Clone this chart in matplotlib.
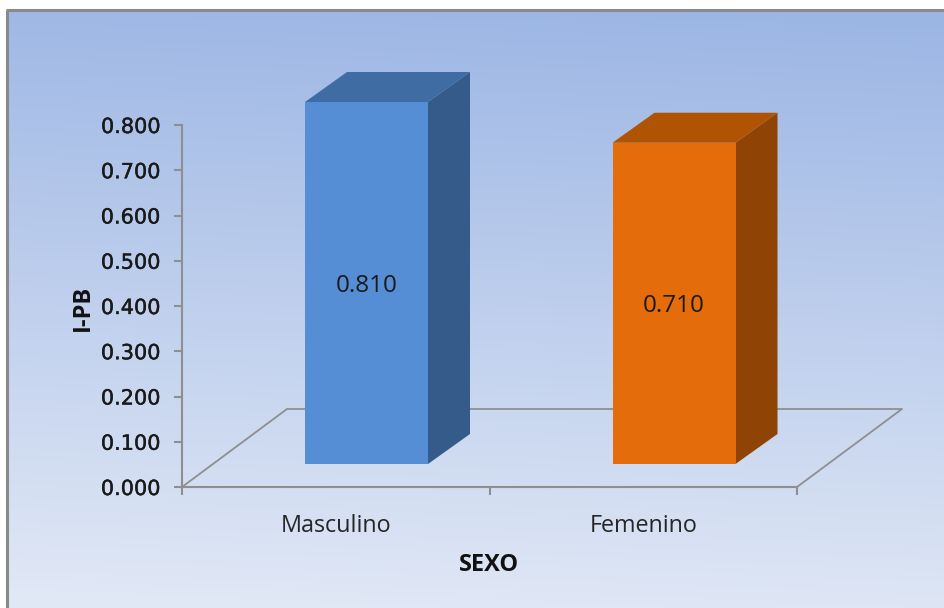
import numpy as np
import matplotlib
matplotlib.use("Agg")
import matplotlib.pyplot as plt
import matplotlib.patheffects as pe
from matplotlib.patches import Polygon

# values
categories = ["Masculino", "Femenino"]
bar_heights = [0.80, 0.71]
bar_labels = ["0.810", "0.710"]
y_ticks = [0.0, 0.1, 0.2, 0.3, 0.4, 0.5, 0.6, 0.7, 0.8]
front_colors = ["#558ed5", "#e46c0a"]
top_colors = ["#3f6ca3", "#b05303"]
side_colors = ["#345b8a", "#8f4304"]

W, H = 944, 608
plt.rcParams["font.family"] = ["Open Sans", "DejaVu Sans"]
fig = plt.figure(figsize=(W / 100, H / 100), dpi=100, facecolor="white")

# Background gradient, light at the bottom, slightly darker top right
bg = fig.add_axes([0, 0, 1, 1], zorder=0)
bg.set_xlim(0, W)
bg.set_ylim(H, 0)
bg.axis("off")
yy, xx = np.mgrid[0:1:200j, 0:1:200j]
t = np.clip(yy * 0.94 + (1 - xx) * 0.06, 0, 1)[..., None]
top_c = np.array([155, 181, 228]) / 255
bot_c = np.array([226, 233, 246]) / 255
bg.imshow(top_c + (bot_c - top_c) * t, extent=(7, W, H, 10), aspect="auto")
bg.set_xlim(0, W)
bg.set_ylim(H, 0)
bg.plot([7, 7], [H, 10], color="#8a8a8a", lw=2.2, solid_capstyle="butt")
bg.plot([6, W], [10, 10], color="#8a8a8a", lw=2.2, solid_capstyle="butt")

# Main plot, 0 to 0.8 is 362 px tall
ax = fig.add_axes([182 / W, (H - 487) / H, 615 / W, 362 / H], zorder=1)
ax.patch.set_alpha(0)
ax.set_xlim(0, 2)
ax.set_ylim(0, 0.8)

depth_x = 105 / 615 * 2
depth_y = 78 / 362 * 0.8
grey = "#8f8f8f"

# Floor
ax.plot([0, depth_x, 2 + depth_x, 2], [0, depth_y, depth_y, 0],
        color=grey, lw=1.3, clip_on=False, zorder=1)

# Bars as three faces
bar_w = 0.4
shift_x = 0.1
base_y = 23 / 362 * 0.8
side_x = 42 / 615 * 2
side_y = 30 / 362 * 0.8

for i, h in enumerate(bar_heights):
    x0 = i + 0.5 + shift_x - bar_w / 2
    x1 = x0 + bar_w
    y0 = base_y
    y1 = base_y + h
    ax.add_patch(Polygon([(x1, y0), (x1 + side_x, y0 + side_y), (x1 + side_x, y1 + side_y), (x1, y1)],
                         facecolor=side_colors[i], edgecolor="none", clip_on=False, zorder=3))
    ax.add_patch(Polygon([(x0, y1), (x1, y1), (x1 + side_x, y1 + side_y), (x0 + side_x, y1 + side_y)],
                         facecolor=top_colors[i], edgecolor="none", clip_on=False, zorder=3))
    ax.bar(i + 0.5 + shift_x, h, bar_w, bottom=y0, color=front_colors[i], clip_on=False, zorder=4)
    ax.text(i + 0.5 + shift_x, y0 + h / 2 - 0.006, bar_labels[i], ha="center", va="center",
            fontsize=17.5, color="#1a1a1a", zorder=5)

# Axes
for s in ["top", "right"]:
    ax.spines[s].set_visible(False)
for s in ["left", "bottom"]:
    ax.spines[s].set_color(grey)
    ax.spines[s].set_linewidth(1.5)

ax.set_yticks(y_ticks)
ax.set_yticklabels(["%.3f" % v for v in y_ticks], fontsize=15, family="DejaVu Sans", color="#1a1a1a",
                   path_effects=[pe.withStroke(linewidth=0.3, foreground="#1a1a1a")])
ax.set_xticks([0, 1, 2])
ax.set_xticklabels([])
ax.set_xticks([0.5, 1.5], minor=True)
ax.set_xticklabels(categories, minor=True, fontsize=16.8, color="#262626")
ax.tick_params(axis="x", which="minor", length=0, pad=19.5)
ax.tick_params(axis="both", which="major", color=grey, width=1.5, length=5.5)
ax.tick_params(axis="y", pad=10)

ax.set_xlabel("SEXO", fontsize=17, fontweight="bold", color="#111111", labelpad=11)
ax.set_ylabel("I-PB", fontsize=17, fontweight="bold", color="#111111")
ax.yaxis.set_label_coords(-87 / 615, 179 / 362)

fig.savefig("out.png", dpi=100, facecolor="white")
